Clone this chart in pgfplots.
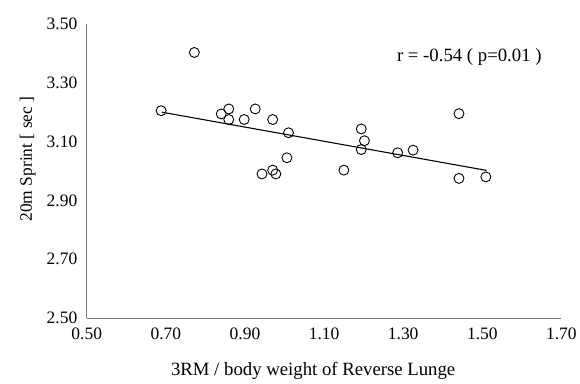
\documentclass[border=0pt]{standalone}
\usepackage{pgfplots}
\pgfplotsset{compat=1.18}
\usepackage{fontspec}
\setmainfont{Liberation Serif}
\begin{document}
\begin{tikzpicture}
\begin{axis}[
  scale only axis,
  width=476bp, height=295bp,
  xmin=0.5, xmax=1.7, ymin=2.5, ymax=3.5,
  xtick={0.5,0.7,...,1.71}, ytick={2.5,2.7,...,3.51},
  xticklabel style={/pgf/number format/fixed,/pgf/number format/fixed zerofill,/pgf/number format/precision=2, yshift=-6bp},
  yticklabel style={/pgf/number format/fixed,/pgf/number format/fixed zerofill,/pgf/number format/precision=2, xshift=-6bp},
  /pgf/number format/assume math mode=true,
  tick label style={font=\fontsize{17.5bp}{20bp}\selectfont},
  axis x line*=bottom, axis y line*=left,
  axis line style={draw=gray!90!black, line width=0.8pt, -},
  major tick length=0pt,
  xlabel={3RM / body weight of Reverse Lunge},
  ylabel={20m Sprint [ sec ]},
  xlabel style={font=\fontsize{18.8bp}{22bp}\selectfont, at={(axis description cs:0.477,0)}, anchor=base, yshift=-58bp},
  ylabel style={font=\fontsize{17.5bp}{20bp}\selectfont, at={(axis description cs:-0.1155,0.5407)}, anchor=base},
  clip=false,
]
\addplot[only marks, mark=o, mark size=5bp, mark options={line width=0.9pt, draw=black, fill=white}] table {
x y
0.688 3.205
0.772 3.403
0.840 3.194
0.859 3.211
0.859 3.175
0.898 3.175
0.926 3.211
0.970 3.175
1.010 3.130
1.006 3.045
0.943 2.990
0.970 3.003
0.978 2.990
1.150 3.003
1.194 3.143
1.202 3.103
1.194 3.073
1.286 3.062
1.325 3.071
1.441 3.195
1.441 2.975
1.509 2.980
};
\addplot[black, line width=1.1pt] table {
x y
0.690 3.200
1.511 3.002
};
\node[anchor=base west, inner sep=0pt, font=\fontsize{18.8bp}{22bp}\selectfont] at (axis cs:1.284,3.371) {r = -0.54 ( p=0.01 )};
\end{axis}
\path[use as bounding box] ([xshift=-87bp,yshift=-60bp]current axis.south west) rectangle ([xshift=17bp,yshift=24bp]current axis.north east);
\end{tikzpicture}
\end{document}
